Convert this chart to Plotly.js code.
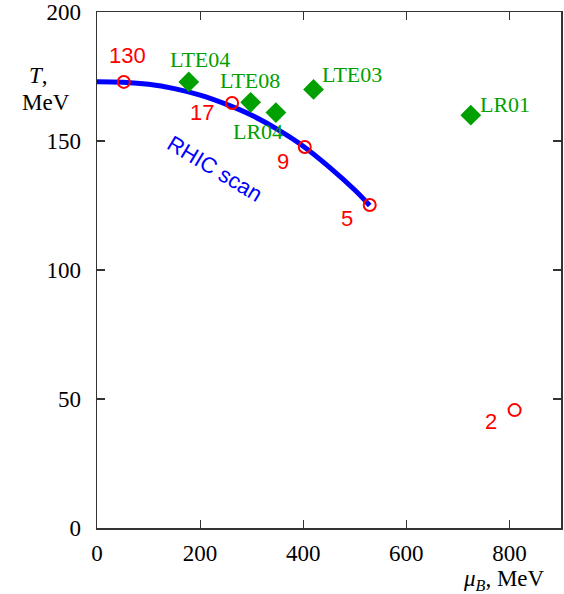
<!DOCTYPE html>
<html><head><meta charset="utf-8">
<script src="https://cdn.plot.ly/plotly-3.0.1.min.js"></script>
<style>html,body{margin:0;padding:0;background:#fff}</style>
</head><body><div id="chart" style="width:564px;height:594px"></div>
<script>
// RHIC freeze-out points (sqrt(s) labels)
const rhicMu = [52, 262, 403, 529, 810];
const rhicT = [172.9, 164.7, 147.7, 125.2, 45.7];
const rhicLabels = ["130", "17", "9", "5", "2"];
// Lattice estimates
const lteMu = [178, 298, 347, 420, 725];
const lteT = [172.9, 165, 161, 170, 160];
const lteLabels = ["LTE04", "LTE08", "LR04", "LTE03", "LR01"];
// RHIC scan curve
const scanMu = [0, 50, 100, 150, 200, 250, 300, 350, 400, 450, 500, 529];
const scanT = [173, 172.8, 172, 170.3, 167.8, 164.3, 160, 154.5, 148, 140, 131, 125];
// Tick values
const xTicks = [0, 200, 400, 600, 800];
const yTicks = [0, 50, 100, 150, 200];

const rhicLabelPos = [[60,183.3],[203.6,161.2],[360.7,142.2],[485,119.8],[764,41.1]];
const lteLabelPos = [[200,181.4],[297,173.6],[312,153.5],[494.6,175.6],[791,164.3]];

const W = 564, H = 594, mL = 97, mR = 3, mT = 12, mB = 66;
const pw = W - mL - mR, ph = H - mT - mB;
const px2x = p => (p - mL) / pw;
const py2y = p => 1 - (p - mT) / ph;

const traces = [
  {x: scanMu, y: scanT, mode: 'lines', line: {color: '#0000ff', width: 5, shape: 'spline'}, hoverinfo: 'none'},
  {x: rhicMu, y: rhicT, mode: 'markers', marker: {symbol: 'circle-open', size: 12, color: '#ff0000', line: {width: 2, color: '#ff0000'}}},
  {x: lteMu, y: lteT, mode: 'markers', marker: {symbol: 'diamond', size: 16, color: '#00a000'}}
];

const serif = 'Liberation Serif, Times New Roman, serif';
const sans = 'Liberation Sans, Arial, sans-serif';
const ann = [];
rhicLabels.forEach((t, i) => ann.push({x: rhicLabelPos[i][0], y: rhicLabelPos[i][1], xref: 'x', yref: 'y', text: t, showarrow: false,
  font: {family: sans, size: 22, color: '#ff0000'}}));
lteLabels.forEach((t, i) => ann.push({x: lteLabelPos[i][0], y: lteLabelPos[i][1], xref: 'x', yref: 'y', text: t, showarrow: false,
  font: {family: serif, size: 22, color: '#00a000'}}));
ann.push({x: 228, y: 139.5, xref: 'x', yref: 'y', text: 'RHIC scan', showarrow: false, textangle: 31,
  font: {family: sans, size: 22, color: '#0000ff'}});
ann.push({x: px2x(38), y: py2y(75), xref: 'paper', yref: 'paper', xanchor: 'center', yanchor: 'middle', showarrow: false, text: '<i>T</i>,',
  font: {family: serif, size: 23, color: '#000'}});
ann.push({x: px2x(46), y: py2y(103), xref: 'paper', yref: 'paper', xanchor: 'center', yanchor: 'middle', showarrow: false, text: 'MeV',
  font: {family: serif, size: 23, color: '#000'}});
ann.push({x: px2x(504), y: py2y(580), xref: 'paper', yref: 'paper', xanchor: 'center', yanchor: 'middle', showarrow: false,
  text: '<i>μ</i><sub><i>B</i></sub>, MeV', font: {family: serif, size: 23, color: '#000'}});

const axisCommon = {ticks: 'inside', ticklen: 8, tickcolor: '#333', tickwidth: 1.2,
  showline: true, linecolor: '#333', linewidth: 1.5, mirror: 'ticks', showgrid: false, zeroline: false,
  tickfont: {family: serif, size: 23, color: '#000'}};

const layout = {
  width: W, height: H,
  margin: {l: mL, r: mR, t: mT, b: mB},
  showlegend: false,
  paper_bgcolor: '#fff', plot_bgcolor: '#fff',
  xaxis: Object.assign({range: [0, 900], tickvals: xTicks, ticktext: xTicks.map(String), ticklabelstandoff: 4}, axisCommon),
  yaxis: Object.assign({range: [0, 200], tickvals: yTicks, ticktext: yTicks.map(String), ticklabelstandoff: 10}, axisCommon),
  annotations: ann
};
Plotly.newPlot('chart', traces, layout, {displayModeBar: false, staticPlot: true});
</script></body></html>
